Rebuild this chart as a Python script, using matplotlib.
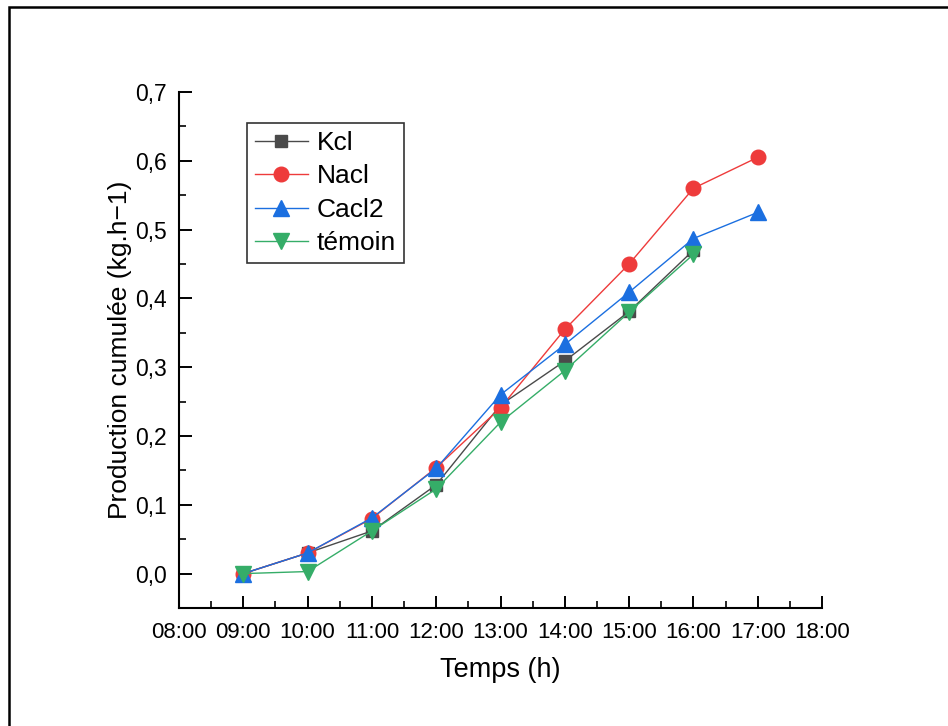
import matplotlib
matplotlib.use("Agg")
import matplotlib.pyplot as plt
from matplotlib import font_manager
from matplotlib.ticker import FixedLocator, FuncFormatter, MultipleLocator
from matplotlib.patches import Rectangle

hours = [9, 10, 11, 12, 13, 14, 15, 16, 17]
kcl = [0.0, 0.030, 0.062, 0.129, 0.245, 0.309, 0.381, 0.470]
nacl = [0.0, 0.030, 0.080, 0.154, 0.241, 0.355, 0.450, 0.560, 0.605]
cacl2 = [0.0, 0.030, 0.081, 0.153, 0.260, 0.333, 0.409, 0.487, 0.525]
temoin = [0.0, 0.003, 0.062, 0.123, 0.220, 0.295, 0.380, 0.464]
xtick_hours = list(range(8, 19))
xtick_labels = [f"{h:02d}:00" for h in xtick_hours]

names = {f.name for f in font_manager.fontManager.ttflist}
base = "Liberation Sans" if "Liberation Sans" in names else "DejaVu Sans"
plt.rcParams['font.family'] = [base, 'DejaVu Sans']

fig = plt.figure(figsize=(9.48, 7.26), dpi=100)
ax = fig.add_axes([179/948, 1-608/726, (822-179)/948, (608-92)/726])

ax.plot(hours[:len(kcl)], kcl, color="#4a4a4a", lw=1.0, marker="s", ms=8.5, label="Kcl", zorder=3)
ax.plot(hours[:len(nacl)], nacl, color="#ee3b3b", lw=1.0, marker="o", ms=10.5, label="Nacl", zorder=4)
ax.plot(hours[:len(cacl2)], cacl2, color="#1b6fe0", lw=1.0, marker="^", ms=11, label="Cacl2", zorder=5)
ax.plot(hours[:len(temoin)], temoin, color="#35ad68", lw=1.0, marker="v", ms=11, label="témoin", zorder=6)

ax.set_xlim(8, 18)
ax.set_ylim(-0.05, 0.7)
ax.xaxis.set_major_locator(FixedLocator(xtick_hours))
ax.set_xticklabels(xtick_labels, fontsize=16)
ax.xaxis.set_minor_locator(MultipleLocator(0.5))
ax.yaxis.set_major_locator(MultipleLocator(0.1))
ax.yaxis.set_minor_locator(MultipleLocator(0.05))
ax.yaxis.set_major_formatter(FuncFormatter(lambda v, p: f"{v:.1f}".replace(".", ",")))

for s in ["top", "right"]:
    ax.spines[s].set_visible(False)
for s in ["left", "bottom"]:
    ax.spines[s].set_linewidth(1.5)
ax.tick_params(which="major", direction="in", length=9, width=1.4)
ax.tick_params(which="minor", direction="in", length=5, width=1.2)
ax.tick_params(axis="x", pad=10)
ax.tick_params(axis="y", labelsize=16.5, pad=9)

ax.set_xlabel("Temps (h)", fontsize=19.5, labelpad=10)
ax.set_ylabel("Production cumulée (kg.h\u22121)", fontsize=19, labelpad=2)

leg = ax.legend(loc="upper left", bbox_to_anchor=((247-179)/643, (608-123)/516),
                fontsize=19, frameon=True, fancybox=False, edgecolor="black",
                handlelength=2.0, handletextpad=0.35, labelspacing=0.36,
                borderpad=0.3, borderaxespad=0)
leg.get_frame().set_linewidth(1.2)

fig.patches.append(Rectangle((9/948, -0.1), 1.2, 1-7/726+0.1, transform=fig.transFigure,
                             fill=False, edgecolor="black", lw=1.8, figure=fig))

fig.savefig("out.png", dpi=100)
